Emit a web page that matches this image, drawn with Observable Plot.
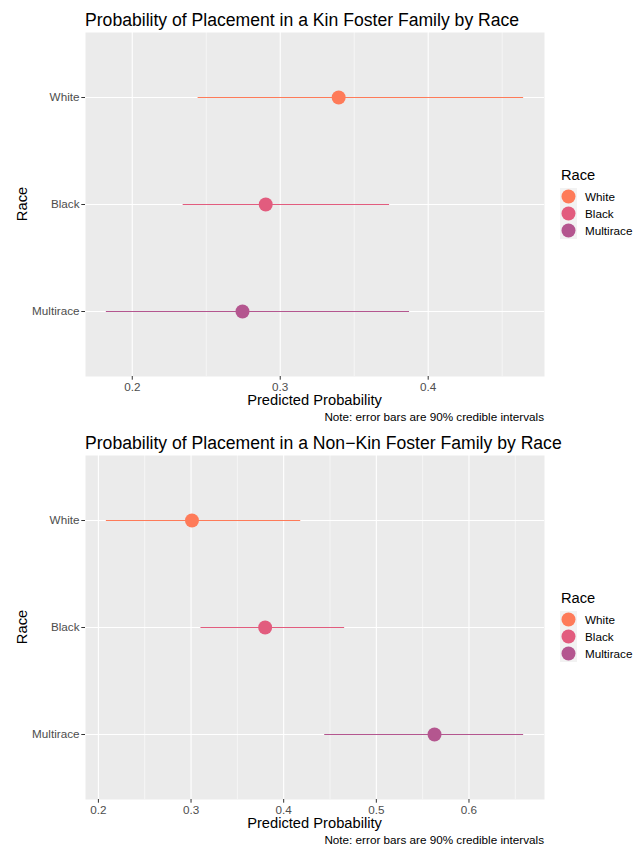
<!DOCTYPE html>
<html>
<head>
<meta charset="utf-8">
<script src="https://cdn.jsdelivr.net/npm/d3@7"></script>
<script src="https://cdn.jsdelivr.net/npm/@observablehq/plot@0.6"></script>
<style>
  html, body { margin: 0; padding: 0; background: #fff; }
  #chart { width: 636px; height: 846px; position: relative; }
  #chart svg { display: block; }
</style>
</head>
<body>
<div id="chart"></div>
<script>
// ---- data ----
const races = ["White", "Black", "Multirace"];
const raceColors = ["#FE7B59", "#E25C7E", "#B4568F"];

const kinMean = [0.3395, 0.2902, 0.2745];
const kinLow  = [0.2445, 0.2344, 0.1825];
const kinHigh = [0.4645, 0.3739, 0.3874];
const kinTicks = [0.2, 0.3, 0.4];
const kinMinor = [0.25, 0.35, 0.45];

const nonKinMean = [0.301, 0.380, 0.5628];
const nonKinLow  = [0.2086, 0.3107, 0.4443];
const nonKinHigh = [0.4184, 0.4658, 0.659];
const nonKinTicks = [0.2, 0.3, 0.4, 0.5, 0.6];
const nonKinMinor = [0.25, 0.35, 0.45, 0.55, 0.65];

const titles = [
  "Probability of Placement in a Kin Foster Family by Race",
  "Probability of Placement in a Non\u2212Kin Foster Family by Race"
];
const xTitle = "Predicted Probability";
const yTitle = "Race";
const legendTitle = "Race";
const note = "Note: error bars are 90% credible intervals";

const FONT = "'Liberation Sans', Arial, Helvetica, sans-serif";
const W = 636, H = 423;
const ML = 85, MR = 92, MT = 32, MB = 47;

function panel(title, mean, low, high, ticks, minor) {
  const data = races.map((r, i) => ({race: r, mean: mean[i], low: low[i], high: high[i]}));
  const lo = d3.min(low), hi = d3.max(high), pad = (hi - lo) * 0.05;
  const intervalMarks = races.map((r, i) =>
    Plot.ruleY(data.filter(d => d.race === r),
      {y: "race", x1: "low", x2: "high", stroke: raceColors[i], strokeWidth: 1.2}));
  const dotMarks = races.map((r, i) =>
    Plot.dot(data.filter(d => d.race === r),
      {x: "mean", y: "race", fill: raceColors[i], r: 7, stroke: null}));
  const svg = Plot.plot({
    width: W, height: H,
    marginLeft: ML, marginRight: MR, marginTop: MT, marginBottom: MB,
    style: {fontFamily: FONT, background: "#fff", overflow: "visible"},
    x: {domain: [lo - pad, hi + pad]},
    y: {type: "point", domain: races, padding: 0.6},
    marks: [
      Plot.frame({fill: "#EBEBEB", stroke: null}),
      Plot.ruleX(minor, {x: d => d, stroke: "#fff", strokeWidth: 0.55}),
      Plot.ruleX(ticks, {x: d => d, stroke: "#fff", strokeWidth: 1.1}),
      Plot.ruleY(races, {y: d => d, stroke: "#fff", strokeWidth: 1.1}),
      Plot.axisX({ticks, tickFormat: d3.format(".1f"), tickSize: 3.7, tickPadding: 2.2,
        fontSize: 11.7, fill: "#4D4D4D", stroke: "#333333", label: null}),
      Plot.axisY({tickSize: 3.7, tickPadding: 2.3, fontSize: 11.7,
        fill: "#4D4D4D", stroke: "#333333", label: null}),
      ...intervalMarks,
      ...dotMarks
    ]
  });
  const s = d3.select(svg);
  const px0 = ML, px1 = W - MR, py0 = MT, py1 = H - MB;
  const cx = (px0 + px1) / 2, cy = (py0 + py1) / 2;
  s.append("text").text(title)
    .attr("x", px0).attr("y", 26).attr("text-anchor", "start")
    .attr("font-size", 17.6).attr("fill", "#000").attr("font-family", FONT);
  s.append("text").text(xTitle)
    .attr("x", cx).attr("y", py1 + 29).attr("text-anchor", "middle")
    .attr("font-size", 14.7).attr("fill", "#000").attr("font-family", FONT);
  s.append("text").text(note)
    .attr("x", px1).attr("y", py1 + 44.5).attr("text-anchor", "end")
    .attr("font-size", 11.7).attr("fill", "#000").attr("font-family", FONT);
  s.append("text").text(yTitle)
    .attr("transform", `translate(26.5,${cy}) rotate(-90)`).attr("text-anchor", "middle")
    .attr("font-size", 14.7).attr("fill", "#000").attr("font-family", FONT);
  // legend
  const lg = s.append("g").attr("text-anchor", "start");
  lg.append("text").text(legendTitle)
    .attr("x", 561).attr("y", cy - 24.5).attr("text-anchor", "start")
    .attr("font-size", 14.7).attr("fill", "#000").attr("font-family", FONT);
  races.forEach((r, i) => {
    const ky = cy - 7.5 + i * 17;
    lg.append("rect").attr("x", 560).attr("y", ky - 8.5).attr("width", 17).attr("height", 17)
      .attr("fill", "#F2F2F2");
    lg.append("circle").attr("cx", 568.5).attr("cy", ky).attr("r", 7).attr("fill", raceColors[i]);
    lg.append("text").text(r).attr("x", 585).attr("y", ky + 4.2).attr("text-anchor", "start")
      .attr("font-size", 11.7).attr("fill", "#000").attr("font-family", FONT);
  });
  return svg;
}

const root = document.getElementById("chart");
root.appendChild(panel(titles[0], kinMean, kinLow, kinHigh, kinTicks, kinMinor));
root.appendChild(panel(titles[1], nonKinMean, nonKinLow, nonKinHigh, nonKinTicks, nonKinMinor));
</script>
</body>
</html>
